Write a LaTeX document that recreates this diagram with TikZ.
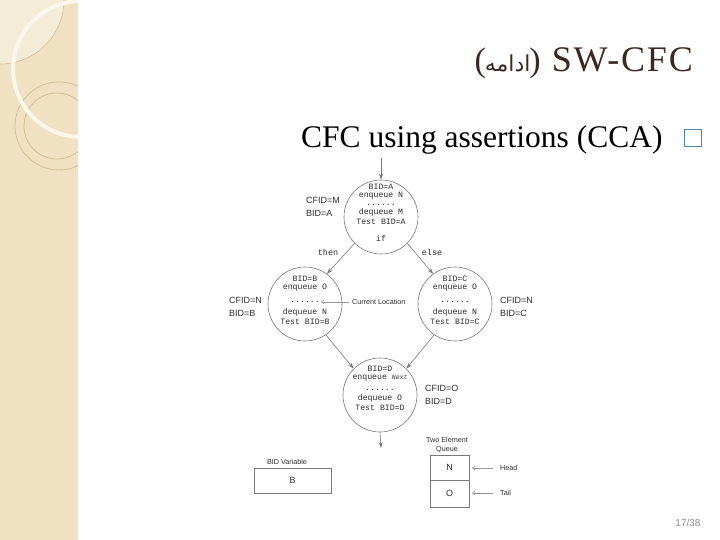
\documentclass[tikz,border=0pt]{standalone}
\usepackage{fontspec}
\setmainfont{Liberation Serif}
\setsansfont{Liberation Sans}
\setmonofont{Liberation Mono}
\newfontfamily\arabicfont[Script=Arabic]{DejaVu Sans}
\newfontfamily\titlefont[LetterSpace=5]{Liberation Serif}
\TeXXeTstate=1
\usetikzlibrary{arrows.meta}
\definecolor{stripbg}{RGB}{239,225,194}
\definecolor{stripltl}{RGB}{245,236,216}
\definecolor{stripline}{RGB}{212,192,148}
\definecolor{striparc}{RGB}{252,247,234}
\definecolor{titlecol}{RGB}{60,40,32}
\definecolor{bulletcol}{RGB}{70,140,165}
\definecolor{figtext}{RGB}{45,45,45}
\definecolor{figline}{RGB}{120,120,120}
\definecolor{pointercol}{RGB}{150,150,150}
\definecolor{pagenum}{RGB}{140,140,140}
\begin{document}
\begin{tikzpicture}[x=1pt,y=-1pt,
  state/.style={circle, draw=figline, line width=0.6pt, minimum size=74pt, inner sep=0pt},
  ctext/.style={font=\fontsize{8.2}{10}\selectfont\ttfamily, text=figtext, align=center, inner sep=0pt, anchor=north},
  side/.style={font=\fontsize{9}{12.5}\selectfont\sffamily, text=figtext, align=left, inner sep=0pt, anchor=north west},
  small/.style={font=\fontsize{7.2}{9}\selectfont\sffamily, text=figtext, inner sep=0pt},
  flow/.style={draw=figline, line width=0.6pt, -{Stealth[length=6pt,width=4pt]}},
  pointer/.style={draw=pointercol, line width=0.6pt, -{Straight Barb[length=2.5pt,width=4pt]}},
  cell/.style={draw=figline, line width=0.6pt, font=\fontsize{9}{10}\selectfont\sffamily, text=figtext, inner sep=0pt, minimum width=39pt},
]
\useasboundingbox (0,0) rectangle (720,540);
\fill[white] (0,0) rectangle (720,540);
% decorative strip
\begin{scope}
\clip (0,0) rectangle (78,540);
\fill[stripbg] (0,0) rectangle (78,540);
\fill[stripltl] (0,0) circle[radius=64];
\draw[stripline, line width=0.6pt] (0,0) circle[radius=64];
\draw[stripline, line width=0.8pt] (59,126) circle[radius=44] (57,126) circle[radius=33];
\draw[striparc, line width=4pt] (81,69) circle[radius=68];
\end{scope}
% title
\node[anchor=base east, inner sep=0pt, text=titlecol, font=\titlefont\fontsize{36}{38}\selectfont] (title) at (693,72) {SW-CFC};
\node[anchor=base east, inner sep=0pt, text=titlecol, font=\fontsize{34}{36}\selectfont] (titlear) at (541,72) {(\kern-1pt{\arabicfont\fontsize{22}{24}\selectfont\beginR ادامه\endR}\kern-1pt)};
\node[anchor=base west, inner sep=0pt, font=\fontsize{31.5}{36}\selectfont] (sub) at (301,148) {CFC using assertions (CCA)};
\node[draw=bulletcol, line width=1.1pt, minimum size=17pt, inner sep=0pt] (bul) at (693,138) {};
% states
\node[state] (A) at (381,217) {};
\node[state] (B) at (305,304) {};
\node[state] (C) at (455,304) {};
\node[state] (D) at (380,395) {};
\node[ctext] (tA) at (381,183.8) {BID=A\\[-2pt]enqueue N\\[-2pt]......\\[-0.5pt]dequeue M\\Test BID=A\\[7pt]if};
\node[ctext] (tB) at (305,276.3) {BID=B\\[-2pt]enqueue O\\[2.5pt]......\\[2.5pt]dequeue N\\Test BID=B};
\node[ctext] (tC) at (455,276.3) {BID=C\\[-2pt]enqueue O\\[2.5pt]......\\[2.5pt]dequeue N\\Test BID=C};
\node[ctext] (tD) at (380,366.3) {BID=D\\[-2pt]enqueue {\itshape\fontsize{6.5}{7}\selectfont Next}\\[0.5pt]......\\[0.5pt]dequeue O\\Test BID=D};
% side labels
\node[side] (lA) at (306,197.5) {CFID=M\\BID=A};
\node[side] (lB) at (229,297.5) {CFID=N\\BID=B};
\node[side] (lC) at (500,297.5) {CFID=N\\BID=C};
\node[side] (lD) at (425,385.5) {CFID=O\\BID=D};
\node[font=\fontsize{8.5}{10}\selectfont\ttfamily, text=figtext, inner sep=0pt] (then) at (328,252) {then};
\node[font=\fontsize{8.5}{10}\selectfont\ttfamily, text=figtext, inner sep=0pt] (else) at (432,252) {else};
% flow arrows
\coordinate (in) at (381,158);
\coordinate (out) at (381,448);
\draw[flow] (in) -- (A.north);
\draw[flow] (A.225) -- (B.54);
\draw[flow] (A.315) -- (C.126);
\draw[flow] (B.304) -- (D.135);
\draw[flow] (C.236) -- (D.45);
\draw[flow] (D.south) -- (out);
% current location
\node[small, anchor=west] (cur) at (352,302) {Current Location};
\coordinate (curtip) at (321,302);
\draw[pointer] ([xshift=-3pt]cur.west) -- (curtip);
% queue
\node[small, align=center] (qlabel) at (447,445.5) {Two Element\\Queue};
\node[cell, minimum height=25pt] (qN) at (449.5,467.5) {N};
\node[cell, minimum height=27pt] (qO) at (449.5,493.5) {O};
\node[small, anchor=west] (head) at (500,468) {Head};
\node[small, anchor=west] (tail) at (500,493) {Tail};
\coordinate (hdtip) at (472,468);
\coordinate (tltip) at (472,493);
\draw[pointer] ([xshift=-7pt]head.west) -- (hdtip);
\draw[pointer] ([xshift=-7pt]tail.west) -- (tltip);
% BID variable
\node[small] (bidlab) at (287,462) {BID Variable};
\node[cell, minimum width=77pt, minimum height=25pt] (bidbox) at (292.5,480.5) {B};
% page number
\node[font=\fontsize{10}{12}\selectfont\sffamily, text=pagenum, inner sep=0pt] (pg) at (688,523) {17/38};
\end{tikzpicture}
\end{document}
